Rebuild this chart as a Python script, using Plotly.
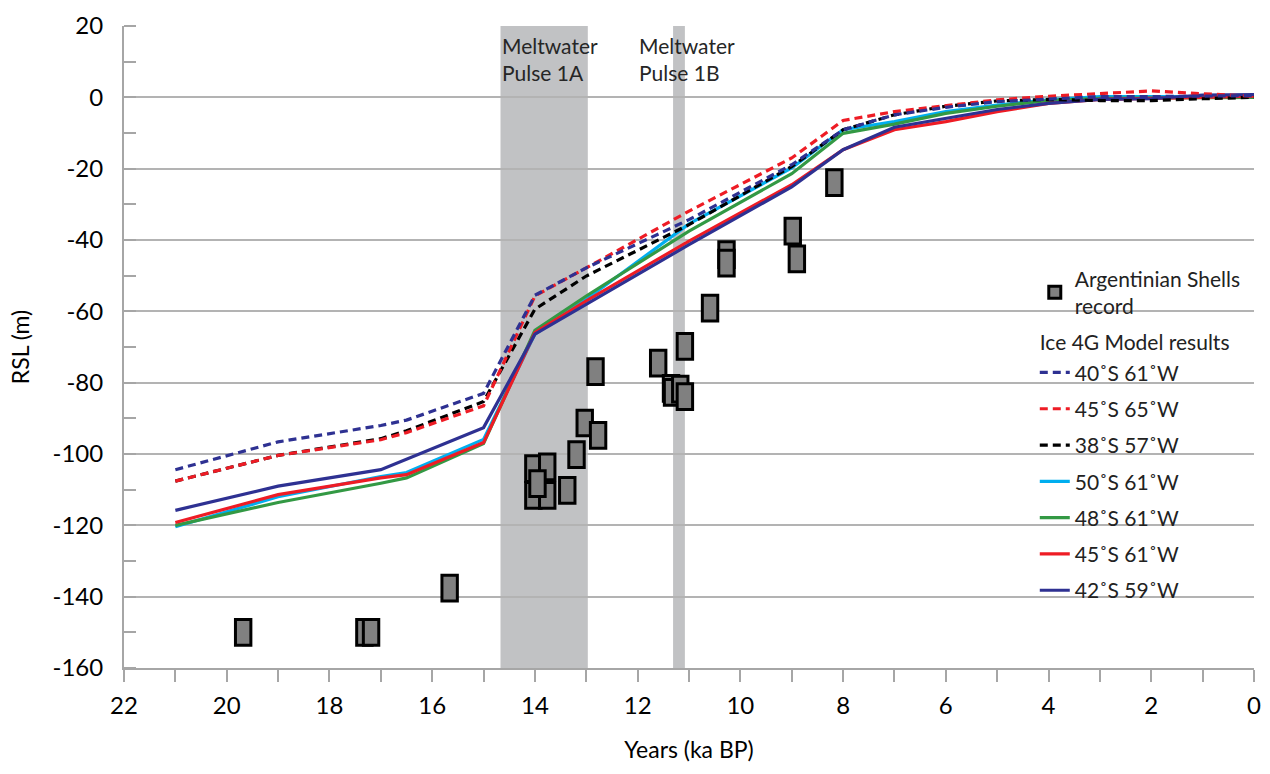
import plotly.graph_objects as go

# ---------------- data ----------------
model_ka = [21, 19, 17, 16.5, 15, 14, 13, 11, 9, 8, 7, 6, 5, 4, 3, 2, 1, 0]

rsl_40S61W = [-104.4, -96.6, -92.0, -90.5, -83.0, -55.5, -47.8, -34.3, -18.9, -9.1, -4.9, -2.8, -1.2, -0.5, 0.2, 0.2, 0.3, 0.5]
rsl_45S65W = [-107.6, -100.4, -96.0, -94.0, -86.5, -55.7, -47.8, -31.9, -17.0, -6.5, -4.0, -2.3, -0.7, 0.3, 1.0, 1.8, 1.0, 0.3]
rsl_38S57W = [-107.6, -100.4, -95.7, -93.5, -85.3, -59.4, -50.1, -35.7, -19.4, -9.1, -4.9, -2.5, -1.0, -0.6, -0.9, -0.9, -0.4, 0.0]
rsl_50S61W = [-120.4, -112.0, -106.3, -105.2, -95.9, -66.4, -56.6, -35.5, -19.8, -9.1, -6.8, -4.0, -2.2, -0.7, 0.2, 0.2, 0.2, 0.2]
rsl_48S61W = [-120.0, -113.6, -108.2, -106.7, -97.1, -65.3, -55.7, -37.5, -21.4, -10.1, -7.5, -4.5, -2.5, -0.9, -0.3, -0.2, 0.0, 0.0]
rsl_45S61W = [-119.2, -111.4, -106.7, -105.8, -96.8, -66.0, -57.1, -40.3, -24.5, -14.7, -9.1, -6.8, -4.0, -1.7, -0.6, -0.4, 0.0, 0.3]
rsl_42S59W = [-115.8, -109.0, -104.4, -101.5, -92.6, -66.4, -58.0, -41.3, -25.1, -14.7, -8.4, -5.9, -3.4, -1.7, -0.6, -0.4, 0.6, 0.8]

shell_ka = [19.68, 17.32, 17.19, 15.66, 14.03, 13.76, 14.03, 13.76, 13.95, 13.37, 13.19, 13.03, 12.77,
            12.82, 11.60, 11.35, 11.33, 11.17, 11.08, 11.08, 10.59, 10.27, 10.27, 8.98, 8.90, 8.17]
shell_rsl = [-150.0, -150.0, -150.0, -137.6, -104.1, -103.6, -111.6, -111.6, -108.3, -110.2, -100.2, -91.3, -94.8,
             -76.9, -74.5, -81.6, -82.7, -81.8, -83.9, -69.8, -59.1, -44.1, -46.5, -37.5, -45.3, -23.9]

pulse_names = ["Meltwater<br>Pulse 1A", "Meltwater<br>Pulse 1B"]
pulse_start = [14.67, 11.31]
pulse_end = [12.97, 11.08]
pulse_label_x = [14.67, 12.0]

x_tick_vals = [22, 20, 18, 16, 14, 12, 10, 8, 6, 4, 2, 0]
x_tick_text = ["22", "20", "18", "16", "14", "12", "10", "8", "6", "4", "2", "0"]
y_tick_vals = [20, 0, -20, -40, -60, -80, -100, -120, -140, -160]
y_tick_text = ["20", "0", "-20", "-40", "-60", "-80", "-100", "-120", "-140", "-160"]

series_names = ["40˚S 61˚W", "45˚S 65˚W", "38˚S 57˚W", "50˚S 61˚W", "48˚S 61˚W", "45˚S 61˚W", "42˚S 59˚W"]
series_values = [rsl_40S61W, rsl_45S65W, rsl_38S57W, rsl_50S61W, rsl_48S61W, rsl_45S61W, rsl_42S59W]
series_colors = ["#2e3192", "#ee1c25", "#000000", "#00aeef", "#339944", "#ee1c25", "#2e3192"]
series_dash = ["8px,5px", "8px,5px", "8px,5px", "solid", "solid", "solid", "solid"]

# ---------------- figure ----------------
FONT = "Lato"
fig = go.Figure()

for name, x0, x1, lx in zip(pulse_names, pulse_start, pulse_end, pulse_label_x):
    fig.add_vrect(x0=x0, x1=x1, fillcolor="#c1c2c4", opacity=1, line_width=0, layer="below")
    fig.add_annotation(x=lx, y=20, xref="x", yref="y", text=name, showarrow=False,
                       xanchor="left", yanchor="top", align="left", xshift=-1, yshift=-5,
                       font=dict(family=FONT, size=21, color="#262626"))

draw_order = [3, 4, 5, 6, 2, 1, 0]
traces = {}
for i, (name, vals, col, dash) in enumerate(zip(series_names, series_values, series_colors, series_dash)):
    kw = {}
    if i == 0:
        kw["legendgrouptitle"] = dict(text="Ice 4G Model results", font=dict(family=FONT, size=21, color="#222222"))
    traces[i] = go.Scatter(
        x=model_ka, y=vals, mode="lines", name=name,
        line=dict(color=col, width=3.2, dash=dash),
        legendgroup="g%d" % (i + 1), legendrank=i + 2, **kw)
for i in draw_order:
    fig.add_trace(traces[i])

# box heights/widths (style)
box_h = 7.2
box_w = 0.30
fig.add_trace(go.Bar(
    x=shell_ka, y=[box_h] * len(shell_ka), base=[v - box_h / 2 for v in shell_rsl],
    width=[box_w] * len(shell_ka),
    marker=dict(color="#808080", line=dict(color="#000000", width=3)),
    name="Argentinian Shells<br>record", legendgroup="g0", legendrank=1, showlegend=True,
))

fig.update_layout(
    width=1270, height=774,
    margin=dict(l=124, r=16, t=26, b=106, autoexpand=False),
    paper_bgcolor="white", plot_bgcolor="white",
    barmode="overlay",
    font=dict(family=FONT, size=24, color="#000000"),
    showlegend=True,
    legend=dict(x=0.806, y=0.638, xanchor="left", yanchor="top",
                bgcolor="rgba(0,0,0,0)", traceorder="grouped", tracegroupgap=6,
                font=dict(family=FONT, size=21, color="#222222"), itemwidth=30),
)

fig.update_xaxes(
    range=[22, 0], tickvals=x_tick_vals, ticktext=x_tick_text, showgrid=False, zeroline=False,
    showline=True, linecolor="#a6a6a6", linewidth=2,
    ticks="outside", ticklen=12, tickwidth=2, tickcolor="#a6a6a6",
    minor=dict(dtick=1, tick0=0, ticks="outside", ticklen=12, tickwidth=2, tickcolor="#a6a6a6", showgrid=False),
    ticklabelstandoff=3,
    tickfont=dict(family=FONT, size=24, color="#000000"),
    title=dict(text="Years (ka BP)", font=dict(family=FONT, size=23, color="#000000"), standoff=24),
)
fig.update_yaxes(
    range=[-160, 20], tickvals=y_tick_vals, ticktext=y_tick_text, showgrid=True, gridcolor="#b3b3b3", gridwidth=1.5,
    zeroline=False, showline=True, linecolor="#a6a6a6", linewidth=2,
    ticks="",
    minor=dict(dtick=10, tick0=10, ticks="inside", ticklen=12, tickwidth=2, tickcolor="#a6a6a6", showgrid=False),
    ticklabelstandoff=14,
    tickfont=dict(family=FONT, size=24, color="#000000"),
    title=dict(text="RSL (m)", font=dict(family=FONT, size=23, color="#000000"), standoff=16),
)

fig.write_html("out.html")
